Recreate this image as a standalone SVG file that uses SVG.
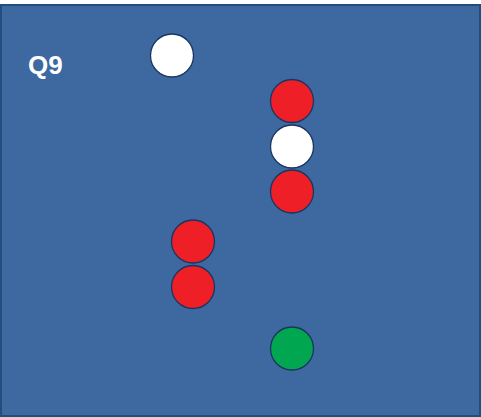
<svg xmlns="http://www.w3.org/2000/svg" width="481" height="417" viewBox="0 0 481 417">
<style>
.c{stroke:#1a3560;stroke-width:1.3}
.w{fill:#ffffff}.r{fill:#ee1f26}.g{fill:#00a650}
</style>
<rect x="0" y="0" width="481" height="417" fill="#ffffff"/>
<rect x="1" y="5" width="479" height="411" fill="#3d68a0" stroke="#1f4f7e" stroke-width="2"/>
<text x="28" y="74" font-family="Liberation Sans, Arial, sans-serif" font-weight="bold" font-size="26" fill="#ffffff">Q9</text>
<g id="n1"><circle class="c w" cx="172" cy="55.5" r="21.5"/></g>
<g id="n2"><circle class="c r" cx="292" cy="101" r="21.5"/></g>
<g id="n3"><circle class="c w" cx="292" cy="146.5" r="21.5"/></g>
<g id="n4"><circle class="c r" cx="292" cy="191.5" r="21.5"/></g>
<g id="n5"><circle class="c r" cx="193" cy="241.5" r="21.5"/></g>
<g id="n6"><circle class="c r" cx="193" cy="287" r="21.5"/></g>
<g id="n7"><circle class="c g" cx="292" cy="348.5" r="21.5"/></g>
<g id="connectors"></g>
</svg>
